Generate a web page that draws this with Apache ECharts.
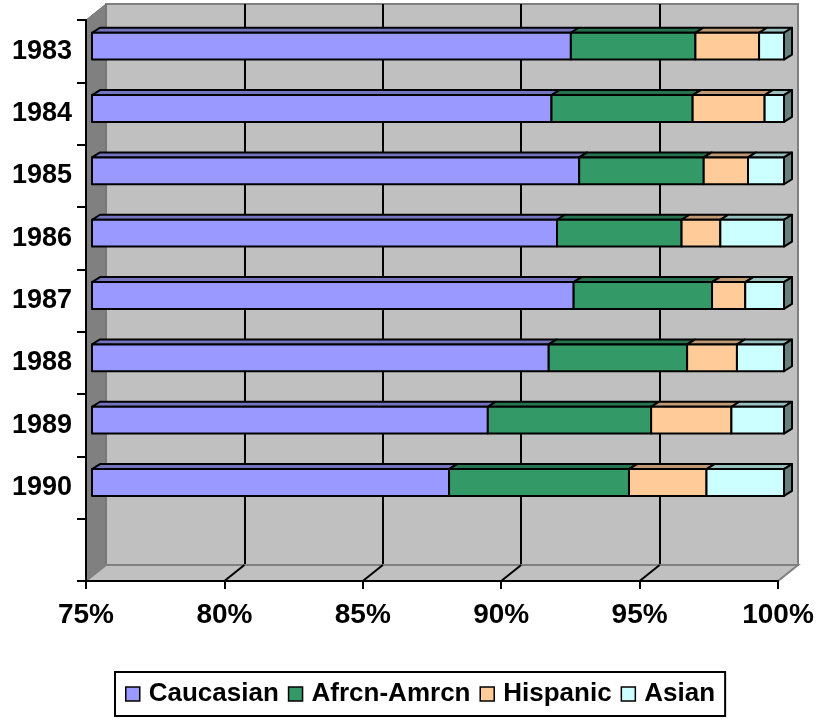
<!DOCTYPE html>
<html>
<head>
<meta charset="utf-8">
<script src="https://cdn.jsdelivr.net/npm/echarts@6/dist/echarts.min.js"></script>
<style>
  html, body { margin: 0; padding: 0; background: #fff; }
  #chart { width: 821px; height: 719px; }
</style>
</head>
<body>
<div id="chart"></div>
<script>
// years shown on the category axis (last slot stays empty like the original)
var years = ['1983', '1984', '1985', '1986', '1987', '1988', '1989', '1990'];
var caucasian = [92.3, 91.6, 92.6, 91.8, 92.4, 91.5, 89.3, 87.9];
var african   = [4.5, 5.1, 4.5, 4.5, 5.0, 5.0, 5.9, 6.5];
var hispanic  = [2.3, 2.6, 1.6, 1.4, 1.2, 1.8, 2.9, 2.8];
var asian     = [0.9, 0.7, 1.3, 2.3, 1.4, 1.7, 1.9, 2.8];
var xTicks = [75, 80, 85, 90, 95, 100];

var seriesNames = ['Caucasian', 'Afrcn-Amrcn', 'Hispanic', 'Asian'];
var frontColors = ['#9999ff', '#339966', '#ffcc99', '#ccffff'];
var topColors   = ['#7373bf', '#267350', '#bf9973', '#99bfbf'];
var sideColor = '#668080';

var FONT = 'Liberation Sans, Arial, sans-serif';
var DX = 20, DY = 16;   // depth of the 3d box
var OX = 6, OY = 5;     // bar front face offset inside the box
var BX = 8, BY = 5;     // bar depth

var chart = echarts.init(document.getElementById('chart'));

// cumulative starts for the stack
var groups = [caucasian, african, hispanic, asian];
var stackData = [];
var run = years.map(function () { return 0; });
groups.forEach(function (g) {
  var rows = [];
  g.forEach(function (v, i) {
    rows.push([i, run[i], run[i] + v]);
    run[i] += v;
  });
  stackData.push(rows);
});

function barRender(k, last) {
  return function (params, api) {
    var cs = params.coordSys;
    var cat = api.value(0);
    var p0 = api.coord([api.value(1), cat]);
    var p1 = api.coord([api.value(2), cat]);
    var x0 = Math.max(p0[0], cs.x) + OX;
    var x1 = p1[0] + OX;
    var h = api.size([0, 1])[1] * 0.43;
    var yc = p0[1] - OY;
    var yT = yc - h / 2, yB = yc + h / 2;
    var line = { stroke: '#000', lineWidth: 2, lineJoin: 'round' };
    var children = [
      { type: 'polygon', shape: { points: [[x0, yT], [x0 + BX, yT - BY], [x1 + BX, yT - BY], [x1, yT]] },
        style: Object.assign({ fill: topColors[k] }, line) },
      { type: 'rect', shape: { x: x0, y: yT, width: x1 - x0, height: h },
        style: Object.assign({ fill: frontColors[k] }, line) }
    ];
    if (last) {
      children.push({ type: 'polygon', shape: { points: [[x1, yT], [x1 + BX, yT - BY], [x1 + BX, yB - BY], [x1, yB]] },
        style: Object.assign({ fill: sideColor }, line) });
    }
    return { type: 'group', children: children };
  };
}

function frameRender(params, api) {
  var cs = params.coordSys;
  var L = cs.x, T = cs.y, R = cs.x + cs.width, B = cs.y + cs.height;
  var children = [
    { type: 'polygon', shape: { points: [[L, T], [L + DX, T - DY], [L + DX, B - DY], [L, B]] },
      style: { fill: '#808080', stroke: '#707070', lineWidth: 1 } },
    { type: 'polygon', shape: { points: [[L, B], [L + DX, B - DY], [R + DX, B - DY], [R, B]] },
      style: { fill: '#c0c0c0', stroke: '#808080', lineWidth: 2 } }
  ];
  xTicks.slice(1, -1).forEach(function (v) {
    var x = api.coord([v, 0])[0];
    children.push({ type: 'line', shape: { x1: x, y1: B, x2: x + DX, y2: B - DY },
      style: { stroke: '#000', lineWidth: 2 } });
  });
  return { type: 'group', children: children };
}

var series = [{
  type: 'custom',
  name: 'frame',
  xAxisIndex: 0, yAxisIndex: 0,
  z: 1,
  silent: true,
  renderItem: frameRender,
  data: [[75, 0]],
  encode: { x: 0, y: 1 }
}];
stackData.forEach(function (rows, k) {
  series.push({
    type: 'custom',
    name: seriesNames[k],
    xAxisIndex: 0, yAxisIndex: 0,
    z: 3,
    itemStyle: { color: frontColors[k] },
    renderItem: barRender(k, k === stackData.length - 1),
    data: rows,
    encode: { x: [1, 2], y: 0 }
  });
});

chart.setOption({
  animation: false,
  backgroundColor: '#fff',
  color: frontColors,
  legend: {
    data: seriesNames,
    left: 115,
    top: 672,
    icon: 'rect',
    itemWidth: 14,
    itemHeight: 14,
    itemGap: 9,
    padding: [9, 10],
    borderColor: '#000',
    borderWidth: 2,
    backgroundColor: '#fff',
    itemStyle: { borderColor: '#000', borderWidth: 1.5 },
    textStyle: { fontFamily: FONT, fontWeight: 'bold', fontSize: 26, color: '#000', padding: [0, 0, 0, 4] }
  },
  grid: [
    { left: 86, top: 20, right: 43, bottom: 138 },
    { left: 86 + DX, top: 20 - DY, right: 43 - DX, bottom: 138 + DY,
      show: true, backgroundColor: '#c0c0c0', borderColor: '#808080', borderWidth: 2 }
  ],
  xAxis: [
    {
      gridIndex: 0, type: 'value', min: 75, max: 100, interval: 5, z: 5,
      axisLine: { show: true, lineStyle: { color: '#000', width: 2 } },
      axisTick: { show: true, inside: false, length: 8, lineStyle: { color: '#000', width: 2 } },
      splitLine: { show: false },
      axisLabel: { formatter: '{value}%', margin: 20, fontFamily: FONT, fontWeight: 'bold', fontSize: 28, color: '#000' }
    },
    {
      gridIndex: 1, type: 'value', min: 75, max: 100, interval: 5,
      axisLine: { show: false }, axisTick: { show: false }, axisLabel: { show: false },
      splitLine: { show: true, showMinLine: false, showMaxLine: false, lineStyle: { color: '#000', width: 2 } }
    }
  ],
  yAxis: [
    {
      gridIndex: 0, type: 'category', inverse: true, z: 5,
      data: years.concat(['']),
      axisLine: { show: true, lineStyle: { color: '#000', width: 2 } },
      axisTick: { show: true, length: 9, lineStyle: { color: '#000', width: 2 } },
      axisLabel: { margin: 14, padding: [4, 0, 0, 0], fontFamily: FONT, fontWeight: 'bold', fontSize: 27, color: '#000' }
    },
    {
      gridIndex: 1, type: 'value', show: false
    }
  ],
  series: series
});
</script>
</body>
</html>
